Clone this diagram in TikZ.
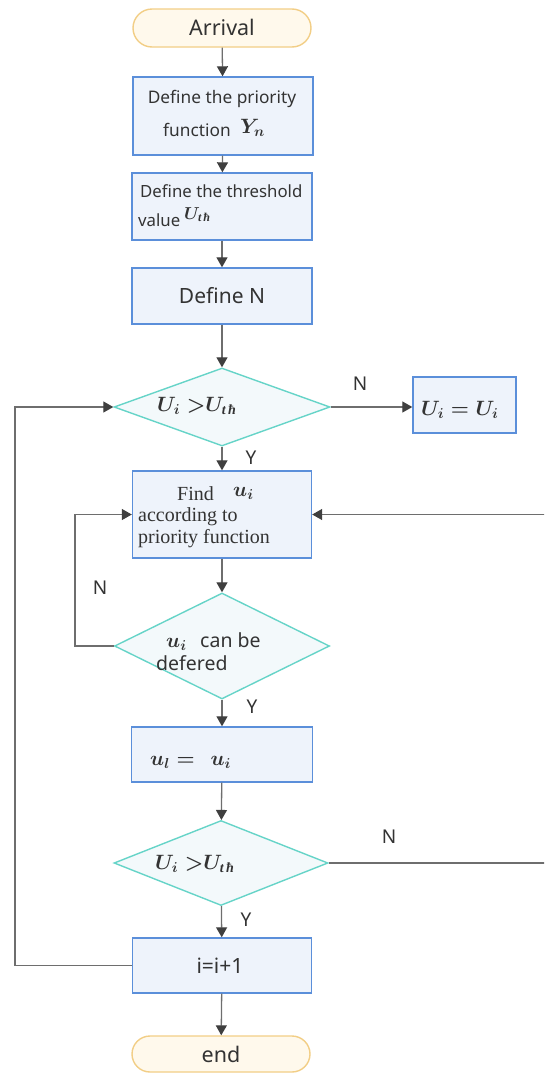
\documentclass[tikz,border=0pt]{standalone}
\usepackage{fontspec}
\setmainfont{Noto Sans}
\newfontfamily\serifface{Liberation Serif}
\usetikzlibrary{shapes.geometric,shapes.misc,arrows.meta}

\definecolor{termfill}{HTML}{FFF9EC}
\definecolor{termline}{HTML}{F2CE86}
\definecolor{boxfill}{HTML}{EEF3FB}
\definecolor{boxline}{HTML}{5B8FDA}
\definecolor{decfill}{HTML}{F3F9FB}
\definecolor{decline}{HTML}{66D4C8}
\definecolor{wire}{HTML}{6E6E6E}
\definecolor{tipc}{HTML}{3F3F3F}
\definecolor{ink}{HTML}{333333}

% subscript "t h-bar" set as one run of bold italic serif glyphs
\newcommand{\thsub}{\hbox{\fontsize{14}{14}\selectfont\serifface\bfseries\itshape t\,ħ}}
\newcommand{\thsubsmall}{\hbox{\fontsize{12}{12}\selectfont\serifface\bfseries\itshape t\,ħ}}

\tikzset{
  x=1pt, y=-1pt,
  every node/.style={text=ink},
  term/.style={draw=termline, fill=termfill, line width=1.4pt, rounded rectangle,
               minimum width=178pt, minimum height=38pt, inner sep=0pt,
               font=\fontsize{21.5}{24}\selectfont},
  procbox/.style={draw=boxline, fill=boxfill, line width=1.4pt, rectangle,
               inner sep=0pt, font=\fontsize{21}{24}\selectfont},
  decision/.style={draw=decline, fill=decfill, line width=1.4pt, diamond,
               inner sep=0pt},
  sanstext/.style={anchor=base west, inner sep=0pt, font=\fontsize{17.3}{20}\selectfont},
  dectext/.style={anchor=base west, inner sep=0pt, font=\fontsize{19.5}{22}\selectfont},
  mathtext/.style={anchor=base west, inner sep=0pt, font=\fontsize{20}{23}\selectfont\boldmath},
  sertext/.style={anchor=base west, inner sep=0pt, font=\fontsize{20}{23}\selectfont\serifface},
  flag/.style={inner sep=0pt, font=\fontsize{19}{22}\selectfont},
  flow/.style={draw=wire, line width=1.3pt,
               -{Triangle[length=10pt,width=11pt,color=tipc,fill=tipc]}},
}

\begin{document}
\begin{tikzpicture}
\useasboundingbox (0,0) rectangle (544,1074);
\clip (0,0) rectangle (544,1074);

% terminals, process boxes and decisions
\node[term] (arr) at (222,28) {};
\node[procbox, minimum width=180pt, minimum height=78pt] (b1) at (223,116) {};
\node[procbox, minimum width=180pt, minimum height=67pt] (b2) at (222,206.5) {};
\node[procbox, minimum width=180pt, minimum height=56pt] (b3) at (222,296) {};
\node[decision, minimum width=216pt, minimum height=78pt] (d1) at (222,407) {};
\node[procbox, minimum width=103pt, minimum height=56pt] (buu) at (464.5,405) {};
\node[procbox, minimum width=179pt, minimum height=87pt] (b4) at (222,514.5) {};
\node[decision, minimum width=215pt, minimum height=106pt] (d2) at (222,646) {};
\node[procbox, minimum width=181pt, minimum height=55pt] (b5) at (222,754.5) {};
\node[decision, minimum width=214pt, minimum height=85pt] (d3) at (221,863) {};
\node[procbox, minimum width=179pt, minimum height=55pt] (b6) at (222,965.5) {};
\node[term, minimum height=36pt] (fin) at (221,1054) {};

% texts set inside the shapes
\node[term, draw=none, fill=none, anchor=base] (tarr) at (222,35) {Arrival};
\node[sanstext, anchor=base] (t1a) at (222,103) {Define the priority};
\node[sanstext] (t1b) at (163,136) {function};
\node[mathtext] (t1c) at (240,133) {$Y_n$};
\node[sanstext, font=\fontsize{16.8}{20}\selectfont] (t2a) at (140,197) {Define the threshold};
\node[sanstext, font=\fontsize{16.8}{20}\selectfont] (t2b) at (138,226) {value};
\node[mathtext, font=\fontsize{17}{20}\selectfont\boldmath] (t2c) at (184,219) {$U_{\thsubsmall}$};
\node[procbox, draw=none, fill=none, anchor=base] (t3) at (222,303) {Define N};
\node[mathtext] (td1) at (157,411) {$U_i\;{>}U_{\thsub}$};
\node[mathtext] (tuu) at (421,415) {$U_i=U_i$};
\node[sertext] (t4a) at (177,500) {Find};
\node[mathtext] (t4u) at (233,496) {$u_i$};
\node[sertext] (t4b) at (138,521) {according to};
\node[sertext] (t4c) at (138,543) {priority function};
\node[mathtext] (td2a) at (166,647) {$u_i$};
\node[dectext] (td2b) at (200,647) {can be};
\node[dectext] (td2c) at (156,670) {defered};
\node[mathtext] (t5) at (150,765) {$u_l=\ \,u_i$};
\node[mathtext] (td3) at (155,869) {$U_i\;{>}U_{\thsub}$};
\node[procbox, draw=none, fill=none, anchor=base] (t6) at (220,973) {i=i+1};
\node[term, draw=none, fill=none, anchor=base] (tfin) at (221,1062) {end};

% branch flags
\node[flag] (n1) at (360,384) {N};
\node[flag] (y1) at (251,458) {Y};
\node[flag] (n2) at (100,588) {N};
\node[flag] (y2) at (252,707) {Y};
\node[flag] (n3) at (389,837) {N};
\node[flag] (y3) at (246,920) {Y};

% helper columns for the loops
\coordinate (lx) at (75,0);
\coordinate (ox) at (15,0);
\coordinate (rx) at (548,0);

% main flow
\draw[flow] (arr) -- (b1);
\draw[flow] (b1) -- (b2);
\draw[flow] (b2) -- (b3);
\draw[flow] (b3) -- (d1);
\draw[flow] (d1.east) -- (buu.west |- d1.east);
\draw[flow] (d1) -- (b4);
\draw[flow] (b4) -- (d2);
\draw[flow] (d2) -- (b5);
\draw[flow] (b5) -- (d3);
\draw[flow] (d3) -- (b6);
\draw[flow] (b6) -- (fin);

% loops
\draw[flow] (d2.west) -| (lx |- b4.west) -- (b4.west);
\draw[flow] (d3.east) -| (rx |- b4.east) -- (b4.east);
\draw[flow] (b6.west) -| (ox |- d1.west) -- (d1.west);
\end{tikzpicture}
\end{document}
